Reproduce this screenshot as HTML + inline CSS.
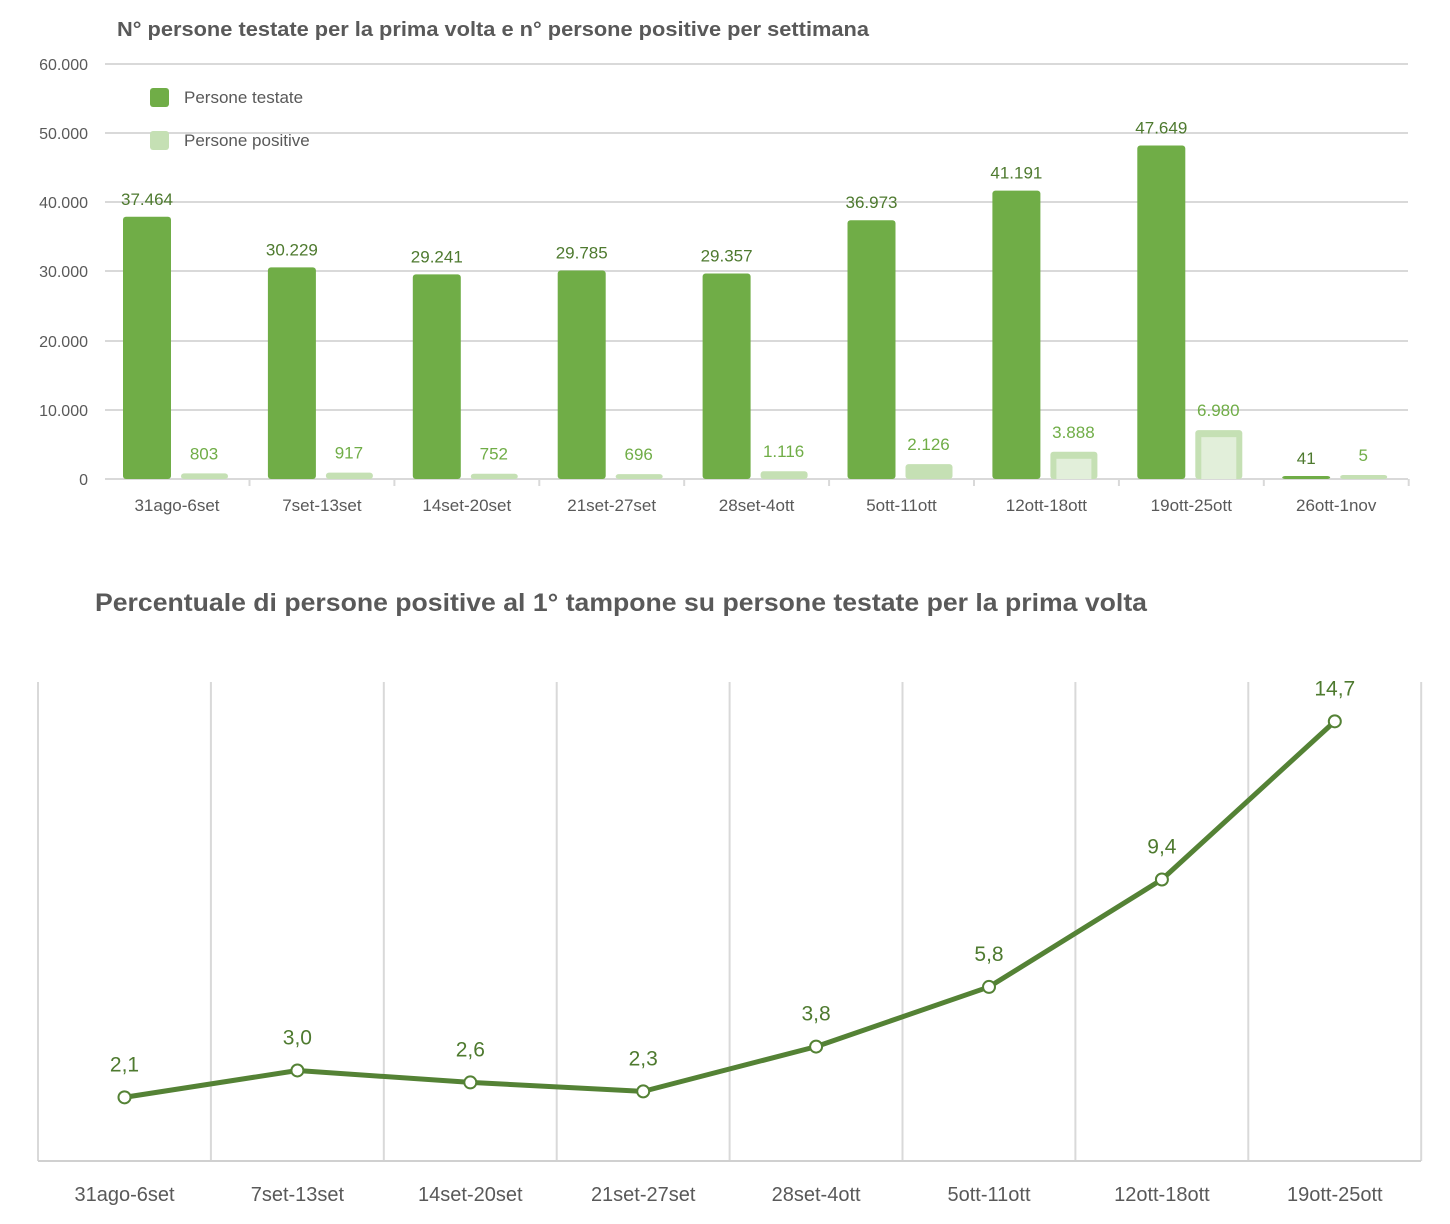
<!DOCTYPE html>
<html><head><meta charset="utf-8"><style>body{margin:0;background:#fff}svg{display:block}</style></head><body>
<svg width="1450" height="1224" xmlns="http://www.w3.org/2000/svg" font-family="Liberation Sans, sans-serif">
<rect width="1450" height="1224" fill="#fff"/>
<text x="117" y="36" font-size="20" font-weight="bold" fill="#595959" textLength="752" lengthAdjust="spacingAndGlyphs">N° persone testate per la prima volta e n° persone positive per settimana</text>
<g stroke="#d9d9d9" stroke-width="2">
<line x1="105" y1="64" x2="1408" y2="64"/><line x1="105" y1="133" x2="1408" y2="133"/><line x1="105" y1="202" x2="1408" y2="202"/><line x1="105" y1="271" x2="1408" y2="271"/><line x1="105" y1="341" x2="1408" y2="341"/><line x1="105" y1="410" x2="1408" y2="410"/><line x1="105" y1="479" x2="1408" y2="479"/>
</g>
<g font-size="16" fill="#595959" text-anchor="end">
<text x="88" y="70">60.000</text><text x="88" y="139">50.000</text><text x="88" y="208">40.000</text><text x="88" y="277">30.000</text><text x="88" y="347">20.000</text><text x="88" y="416">10.000</text><text x="88" y="485">0</text>
</g>
<rect x="150" y="88" width="19" height="19" rx="3" fill="#70ad47"/>
<rect x="150" y="131" width="19" height="19" rx="3" fill="#c5e0b4"/>
<text x="184" y="103" font-size="17" fill="#595959">Persone testate</text>
<text x="184" y="146" font-size="17" fill="#595959">Persone positive</text>
<g id="bars"></g>
<g font-size="17" fill="#595959" text-anchor="middle" id="xl1"></g>
<text x="95" y="611" font-size="25" font-weight="bold" fill="#595959" textLength="1052" lengthAdjust="spacingAndGlyphs">Percentuale di persone positive al 1° tampone su persone testate per la prima volta</text>
<g stroke="#d9d9d9" stroke-width="2" id="vg"></g>
<line x1="38" y1="1161" x2="1421" y2="1161" stroke="#d0d0d0" stroke-width="2"/>
<g id="line"></g>
<script>
var ns="http://www.w3.org/2000/svg";
function el(p,t,a,txt){var e=document.createElementNS(ns,t);for(var k in a)e.setAttribute(k,a[k]);if(txt!==undefined)e.textContent=txt;p.appendChild(e);return e;}
var svg=document.querySelector('svg');
var cats=["31ago-6set","7set-13set","14set-20set","21set-27set","28set-4ott","5ott-11ott","12ott-18ott","19ott-25ott","26ott-1nov"];
var T=[37464,30229,29241,29785,29357,36973,41191,47649,41],P=[803,917,752,696,1116,2126,3888,6980,5];
var TL=["37.464","30.229","29.241","29.785","29.357","36.973","41.191","47.649","41"],PL=["803","917","752","696","1.116","2.126","3.888","6.980","5"];
var g=svg.querySelector('#bars'),x1=svg.querySelector('#xl1');
for(var i=0;i<9;i++){var c=177+i*144.9;
 var h=Math.max(T[i]*0.007,3);el(g,'rect',{x:c-54,y:479-h,width:48,height:h,rx:3,fill:'#70ad47'});
 var hp=Math.max(P[i]*0.007,4);
 el(g,'rect',{x:c+4,y:479-hp,width:47,height:hp,rx:3,fill:'#c5e0b4'});
 if(hp>15)el(g,'rect',{x:c+10,y:479-hp+7,width:35,height:hp-7,fill:'#e2efda'});
 el(g,'text',{x:c-30,y:479-h-12,'font-size':17,fill:'#4e7a2f','text-anchor':'middle'},TL[i]);
 el(g,'text',{x:c+27,y:479-hp-14,'font-size':17,fill:'#70ad47','text-anchor':'middle'},PL[i]);
 el(x1,'text',{x:c,y:511},cats[i]);
 el(g,'line',{x1:c+72.5,y1:479,x2:c+72.5,y2:486,stroke:'#d9d9d9','stroke-width':2});
}
var vg=svg.querySelector('#vg');
for(var j=0;j<=8;j++){var x=38+j*172.9;el(vg,'line',{x1:x,y1:682,x2:x,y2:1161});}
var V=[2.1,3.0,2.6,2.3,3.8,5.8,9.4,14.7],VL=["2,1","3,0","2,6","2,3","3,8","5,8","9,4","14,7"];
var lg=svg.querySelector('#line'),pts=[];
for(var k=0;k<8;k++){var cx=124.5+k*172.9,cy=1160-29.84*V[k];pts.push(cx+','+cy);}
el(lg,'polyline',{points:pts.join(' '),fill:'none',stroke:'#548235','stroke-width':5,'stroke-linejoin':'round'});
for(var k=0;k<8;k++){var cx=124.5+k*172.9,cy=1160-29.84*V[k];
 el(lg,'circle',{cx:cx,cy:cy,r:6,fill:'#fff',stroke:'#548235','stroke-width':2});
 el(lg,'text',{x:cx,y:cy-26,'font-size':21,fill:'#4e7a2f','text-anchor':'middle'},VL[k]);
 el(lg,'text',{x:cx,y:1201,'font-size':20,fill:'#595959','text-anchor':'middle'},cats[k]);
}
</script>
</svg>
</body></html>
